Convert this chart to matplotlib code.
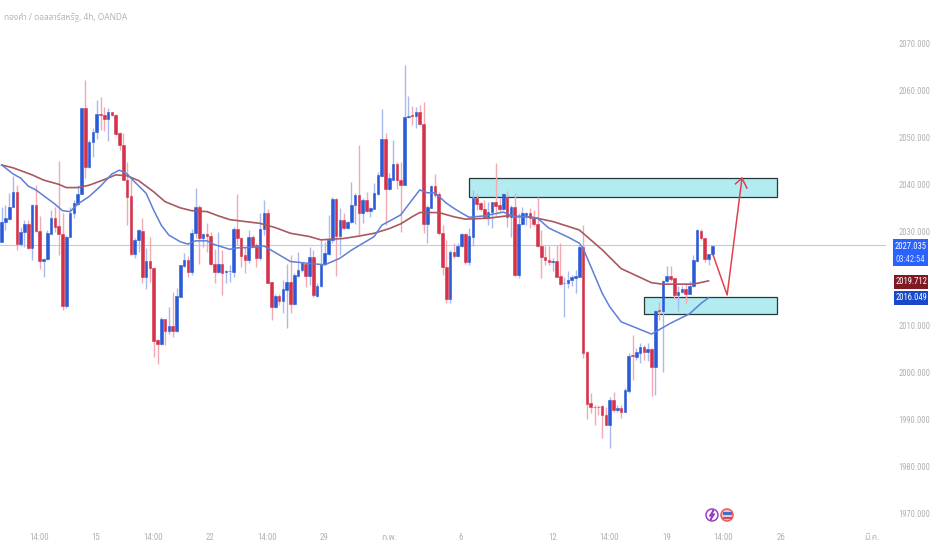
import matplotlib
matplotlib.use("Agg")
import matplotlib.pyplot as plt
from matplotlib.patches import Rectangle, Circle, Polygon
from matplotlib.transforms import IdentityTransform

opens = [
    2027.7, 2032.0, 2032.6, 2035.2, 2038.4, 2027.4, 2029.8, 2031.6, 2026.4, 2035.6,
    2030.1, 2023.8, 2024.1, 2029.4, 2032.9, 2031.1, 2029.4, 2014.2, 2028.9, 2033.8,
    2035.8, 2037.9, 2056.1, 2043.6, 2049.0, 2051.0, 2055.0, 2054.7, 2053.9, 2055.3,
    2054.7, 2050.8, 2048.3, 2041.0, 2037.5, 2025.1, 2028.2, 2030.1, 2020.4, 2023.8,
    2022.3, 2006.9, 2006.1, 2011.5, 2008.9, 2010.0, 2008.8, 2016.1, 2022.7, 2023.9,
    2021.4, 2029.6, 2035.1, 2028.7, 2029.4, 2029.0, 2023.1, 2021.3, 2023.0, 2021.4,
    2021.5, 2021.4, 2030.6, 2028.7, 2025.0, 2023.9, 2028.9, 2027.1, 2024.3, 2030.5,
    2033.8, 2019.2, 2013.9, 2016.3, 2015.3, 2017.5, 2019.3, 2014.6, 2020.6, 2021.8,
    2023.1, 2020.5, 2024.6, 2016.3, 2018.3, 2023.1, 2025.2, 2028.2, 2036.8, 2029.0,
    2032.4, 2030.8, 2032.0, 2035.5, 2037.7, 2033.8, 2036.7, 2034.4, 2034.8, 2037.9,
    2041.8, 2049.6, 2038.9, 2041.0, 2044.4, 2040.9, 2039.8, 2054.2, 2054.7, 2054.6,
    2055.4, 2052.9, 2031.6, 2035.0, 2039.6, 2037.9, 2029.6, 2022.5, 2015.7, 2025.6,
    2024.7, 2026.8, 2029.5, 2023.4, 2028.9, 2037.0, 2036.0, 2034.8, 2033.1, 2034.1,
    2036.2, 2035.5, 2034.7, 2037.2, 2033.1, 2035.1, 2020.8, 2031.6, 2033.5, 2034.0,
    2032.8, 2031.6, 2026.9, 2024.5, 2023.9, 2023.4, 2023.7, 2020.5, 2019.0, 2019.0,
    2019.6, 2020.1, 2020.4, 2026.6, 2004.3, 1993.5, 1992.8, 1992.8, 1992.9, 1991.0,
    1988.9, 1994.2, 1992.1, 1992.4, 1991.6, 1996.1, 2003.7, 2003.4, 2004.1, 2005.4,
    2004.3, 2005.0, 2001.3, 2013.3, 2013.0, 2019.5, 2020.5, 2020.0, 2016.6, 2017.1,
    2017.7, 2016.7, 2018.3, 2023.8, 2030.1, 2028.5, 2024.1, 2025.1,
]
closes = [
    2032.0, 2032.8, 2035.2, 2038.4, 2027.4, 2029.8, 2031.6, 2026.4, 2035.6, 2030.1,
    2023.8, 2024.1, 2029.6, 2032.9, 2031.0, 2029.4, 2014.2, 2028.9, 2034.0, 2036.0,
    2037.9, 2056.1, 2043.6, 2049.0, 2051.0, 2055.0, 2054.7, 2053.9, 2055.3, 2054.7,
    2050.7, 2048.3, 2041.0, 2037.4, 2025.1, 2028.2, 2030.3, 2020.4, 2023.8, 2022.3,
    2006.7, 2006.1, 2011.5, 2008.9, 2010.0, 2008.8, 2016.3, 2022.9, 2023.9, 2021.4,
    2029.7, 2035.1, 2028.7, 2029.4, 2029.0, 2023.1, 2021.4, 2023.0, 2021.2, 2021.6,
    2021.6, 2030.6, 2028.7, 2024.8, 2023.9, 2028.9, 2026.9, 2024.3, 2030.6, 2033.8,
    2019.1, 2013.9, 2016.3, 2015.3, 2017.7, 2019.3, 2014.6, 2020.7, 2021.8, 2023.2,
    2020.5, 2024.6, 2016.5, 2018.4, 2023.1, 2025.5, 2028.2, 2036.8, 2029.0, 2032.4,
    2030.8, 2032.0, 2035.6, 2037.7, 2033.8, 2036.7, 2034.4, 2034.9, 2038.1, 2042.0,
    2049.6, 2038.9, 2041.3, 2044.4, 2040.9, 2039.8, 2054.3, 2054.6, 2054.6, 2055.4,
    2052.8, 2031.6, 2035.1, 2039.6, 2037.7, 2029.6, 2022.5, 2015.7, 2025.6, 2024.7,
    2026.9, 2029.5, 2023.4, 2029.0, 2037.0, 2035.8, 2034.7, 2033.1, 2034.2, 2036.2,
    2035.4, 2034.7, 2037.9, 2033.1, 2035.1, 2020.8, 2031.6, 2034.0, 2034.0, 2032.8,
    2031.6, 2026.8, 2024.5, 2023.9, 2023.4, 2023.7, 2020.4, 2018.9, 2019.1, 2019.7,
    2020.3, 2020.5, 2026.6, 2004.1, 1993.4, 1992.8, 1992.7, 1992.7, 1991.0, 1988.9,
    1994.2, 1992.0, 1992.5, 1991.6, 1996.3, 2003.6, 2003.5, 2004.3, 2005.4, 2004.3,
    2005.0, 2001.3, 2013.2, 2013.0, 2019.5, 2020.5, 2019.8, 2016.5, 2017.2, 2017.7,
    2016.7, 2018.4, 2023.9, 2030.2, 2028.5, 2024.1, 2025.2, 2027.0,
]
highs = [
    2035.2, 2035.6, 2038.1, 2041.8, 2039.8, 2031.0, 2032.4, 2032.4, 2035.9, 2039.8,
    2033.3, 2024.3, 2030.3, 2034.5, 2035.2, 2045.0, 2033.8, 2029.2, 2035.2, 2036.7,
    2039.8, 2056.1, 2062.1, 2049.4, 2051.9, 2058.0, 2058.5, 2056.5, 2056.1, 2055.4,
    2055.0, 2051.2, 2050.8, 2044.8, 2041.6, 2028.5, 2030.6, 2032.8, 2026.4, 2028.9,
    2022.5, 2007.1, 2011.9, 2011.5, 2014.0, 2017.2, 2017.9, 2022.9, 2025.5, 2024.8,
    2030.6, 2039.3, 2035.6, 2029.7, 2031.8, 2029.9, 2026.2, 2029.9, 2026.0, 2021.8,
    2022.9, 2031.0, 2037.9, 2028.9, 2026.7, 2030.3, 2029.2, 2027.5, 2034.0, 2036.7,
    2034.7, 2019.3, 2016.8, 2016.8, 2019.7, 2023.1, 2025.0, 2021.1, 2025.7, 2023.6,
    2023.2, 2026.7, 2026.0, 2019.0, 2028.2, 2027.8, 2033.5, 2037.4, 2037.0, 2034.9,
    2034.0, 2032.3, 2040.4, 2038.1, 2048.3, 2037.0, 2038.4, 2035.2, 2040.2, 2042.7,
    2055.9, 2050.8, 2042.5, 2049.5, 2044.8, 2044.8, 2065.3, 2058.7, 2056.6, 2056.5,
    2056.8, 2057.5, 2035.6, 2039.8, 2042.2, 2038.4, 2031.4, 2028.2, 2026.1, 2027.5,
    2027.5, 2029.6, 2029.6, 2030.7, 2038.8, 2038.1, 2036.3, 2036.7, 2036.3, 2036.3,
    2044.5, 2037.0, 2038.1, 2038.5, 2035.6, 2038.2, 2033.9, 2035.1, 2034.2, 2034.9,
    2034.6, 2037.2, 2030.3, 2026.8, 2026.8, 2024.3, 2027.1, 2027.5, 2020.4, 2021.5,
    2020.8, 2021.8, 2027.1, 2031.4, 2004.5, 1995.6, 1993.2, 1993.2, 1993.2, 1992.8,
    1994.9, 1996.0, 1993.2, 1993.1, 1996.7, 2004.1, 2008.0, 2005.2, 2006.2, 2005.9,
    2006.4, 2005.2, 2013.3, 2015.1, 2019.7, 2022.7, 2022.7, 2020.2, 2018.4, 2018.4,
    2019.0, 2019.5, 2025.0, 2030.6, 2030.6, 2028.7, 2025.3, 2027.1,
]
lows = [
    2027.7, 2030.3, 2032.4, 2035.2, 2026.1, 2026.9, 2026.7, 2026.2, 2023.9, 2029.9,
    2022.1, 2020.4, 2023.9, 2029.4, 2029.9, 2025.0, 2013.3, 2013.7, 2028.9, 2032.8,
    2035.6, 2037.9, 2041.3, 2043.4, 2045.7, 2049.7, 2051.5, 2051.3, 2049.2, 2054.5,
    2050.5, 2047.3, 2040.9, 2031.3, 2025.0, 2024.3, 2025.7, 2019.0, 2017.7, 2019.3,
    2003.4, 2001.8, 2005.9, 2005.9, 2008.3, 2007.5, 2008.7, 2016.0, 2022.5, 2020.4,
    2020.7, 2028.5, 2023.1, 2026.6, 2025.7, 2022.9, 2019.1, 2021.2, 2016.5, 2019.1,
    2019.3, 2020.4, 2027.1, 2022.5, 2021.2, 2023.2, 2026.7, 2022.5, 2023.9, 2029.2,
    2019.0, 2011.2, 2013.7, 2014.4, 2012.6, 2009.4, 2012.6, 2014.4, 2020.4, 2021.4,
    2018.1, 2018.6, 2016.1, 2016.1, 2018.1, 2022.9, 2025.0, 2027.5, 2020.5, 2025.0,
    2030.6, 2030.6, 2031.8, 2031.6, 2029.2, 2031.7, 2034.2, 2033.1, 2034.7, 2037.7,
    2041.6, 2031.3, 2038.8, 2040.9, 2038.9, 2029.9, 2039.8, 2054.0, 2052.6, 2051.9,
    2052.6, 2029.6, 2027.6, 2034.9, 2037.4, 2029.2, 2020.8, 2014.9, 2014.9, 2024.3,
    2024.5, 2026.6, 2023.1, 2022.9, 2026.8, 2034.6, 2034.4, 2032.8, 2031.4, 2030.7,
    2033.5, 2034.2, 2034.6, 2031.0, 2028.8, 2020.5, 2020.1, 2031.4, 2031.4, 2030.7,
    2031.2, 2026.6, 2020.1, 2022.9, 2022.9, 2021.5, 2020.3, 2018.6, 2011.9, 2017.9,
    2018.3, 2016.9, 2020.4, 2003.1, 1990.1, 1991.4, 1988.9, 1991.0, 1986.1, 1988.9,
    1984.1, 1991.7, 1991.7, 1990.3, 1991.6, 1995.6, 1998.5, 2002.7, 2002.1, 2002.7,
    2002.4, 1995.1, 1995.3, 2011.1, 2000.2, 2019.3, 2019.5, 2015.8, 2013.1, 2016.9,
    2014.9, 2016.7, 2018.1, 2023.6, 2028.2, 2023.6, 2022.9, 2025.0,
]

ma_fast_idx = [0, 3, 5, 7, 9, 12, 14, 16, 18, 20, 23, 26, 29, 31, 33, 35, 38, 40, 42, 44,
               47, 49, 51, 54, 56, 60, 62, 66, 69, 72, 76, 81, 85, 89, 92, 98, 100, 105,
               108, 110, 112, 114, 117, 119, 121, 123, 127, 132, 135, 138, 141, 144, 149,
               152, 153, 158, 160, 163, 171, 176, 181, 184, 186]
ma_fast = [2044.1, 2042.2, 2041.3, 2039.6, 2038.8, 2037.0, 2035.8, 2034.4, 2034.2, 2035.8,
           2037.4, 2039.6, 2042.2, 2043.0, 2042.2, 2040.5, 2038.1, 2034.5, 2031.3, 2029.2,
           2027.8, 2027.3, 2028.0, 2028.0, 2027.2, 2026.2, 2026.5, 2026.6, 2026.9, 2025.5,
           2023.6, 2023.2, 2022.9, 2024.3, 2026.0, 2028.9, 2031.3, 2033.5, 2036.7, 2038.8,
           2038.2, 2038.2, 2036.0, 2034.9, 2033.9, 2033.0, 2033.3, 2034.1, 2033.1, 2033.1,
           2032.8, 2030.7, 2028.8, 2027.5, 2026.4, 2016.9, 2014.0, 2010.8, 2008.2, 2010.5,
           2012.5, 2014.7, 2015.9]
ma_slow_idx = [0, 3, 5, 8, 11, 15, 17, 20, 23, 27, 30, 33, 36, 40, 43, 47, 50, 54, 57, 60,
               64, 68, 72, 76, 81, 84, 90, 94, 98, 102, 105, 108, 110, 115, 119, 122, 128,
               133, 139, 145, 152, 158, 163, 171, 174, 182, 186]
ma_slow = [2044.1, 2043.5, 2042.9, 2042.0, 2040.9, 2040.0, 2039.3, 2039.3, 2039.8, 2041.0,
           2042.0, 2041.8, 2040.8, 2038.4, 2036.3, 2035.0, 2034.4, 2034.2, 2033.3, 2032.5,
           2032.1, 2031.7, 2030.8, 2029.6, 2028.9, 2028.2, 2028.5, 2029.0, 2029.6, 2030.6,
           2031.6, 2033.1, 2034.0, 2034.0, 2033.1, 2032.6, 2032.8, 2033.3, 2033.1, 2032.1,
           2030.3, 2026.1, 2022.1, 2019.1, 2018.8, 2018.8, 2019.5]

last_price = 2027.035
fast_value = 2016.049
slow_value = 2019.712
countdown = "03:42:54"

# drawn zones and the arrow (candle index, price)
zone_top = (123.0, 204.0, 2037.3, 2041.3)
zone_low = (169.0, 204.0, 2012.5, 2016.1)
arrow_x = [187.2, 190.9, 194.8]
arrow_y = [2025.0, 2016.5, 2041.3]
head_x = [193.1, 194.8, 196.1]
head_y = [2040.1, 2041.3, 2039.2]

title = "ทองคำ / ดอลลาร์สหรัฐ, 4h, OANDA"
# 2020 sits behind the price boxes in the original, so it has no label
y_ticks = [1970, 1980, 1990, 2000, 2010, 2030, 2040, 2050, 2060, 2070]
x_tick_px = [39, 96, 153, 210, 267, 324, 389, 461, 553, 609, 667, 723, 781, 872]
x_tick_labels = ["14:00", "15", "14:00", "22", "14:00", "29", "ก.พ.", "6", "12", "14:00",
                 "19", "14:00", "26", "มี.ค."]

BLUE = "#2a5bd7"
RED = "#d5324a"
BLUE_WICK = "#a9bbee"
RED_WICK = "#f3a9b2"
GREY = "#b2b2b2"
CONDENSED = ["Roboto Condensed", "Liberation Sans Narrow", "Liberation Sans", "DejaVu Sans"]
THAI = ["Noto Sans Thai", "IBM Plex Sans Thai", "DejaVu Sans"]
plt.rcParams["font.family"] = CONDENSED

W, H = 932, 550
fig = plt.figure(figsize=(W / 100, H / 100), dpi=100)
ax = fig.add_axes([0, 1 - 525 / H, 886 / W, 525 / H])
ax.set_xlim(-0.447, 232.7)
ax.set_ylim(1967.66, 2079.13)
for s in ax.spines.values():
    s.set_visible(False)

ax.axhline(last_price, color="#bcc9f3", lw=0.8, zorder=1)

for x0, x1, y0, y1 in (zone_top, zone_low):
    ax.add_patch(Rectangle((x0, y0), x1 - x0, y1 - y0, facecolor="#b2ebf0",
                           edgecolor="#26393a", lw=0.9, zorder=1.5))

xs = list(range(len(opens)))
wick_col = [BLUE_WICK if c > o else RED_WICK for o, c in zip(opens, closes)]
body_col = [BLUE if c > o else RED for o, c in zip(opens, closes)]
ax.vlines(xs, lows, highs, colors=wick_col, lw=1.0, zorder=2)
ax.bar(xs, [abs(c - o) for o, c in zip(opens, closes)],
       bottom=[min(o, c) for o, c in zip(opens, closes)],
       width=0.72, color=body_col, edgecolor=body_col, lw=0.4, zorder=3)

ax.plot(ma_slow_idx, ma_slow, color="#a8595f", lw=1.2, zorder=4)
ax.plot(ma_fast_idx, ma_fast, color="#5f7fd6", lw=1.1, zorder=4)

ax.plot(arrow_x, arrow_y, color="#e2404f", lw=1.1, zorder=5)
ax.plot(head_x, head_y, color="#e2404f", lw=1.1, zorder=5)

ax.yaxis.tick_right()
ax.set_yticks(y_ticks)
ax.set_yticklabels(["%.3f" % v for v in y_ticks])
ax.tick_params(axis="y", length=0, pad=9.0, labelsize=6.2, labelcolor=GREY)
ax.set_xticks([(p - 1.7) / 3.8 for p in x_tick_px])
ax.set_xticklabels(x_tick_labels)
ax.tick_params(axis="x", length=0, pad=5.5, labelsize=6.4, labelcolor=GREY)
for t, s in zip(ax.get_xticklabels(), x_tick_labels):
    if s[0] > "\u0e00":
        t.set_family(THAI)

fig.text(4 / W, 1 - 17 / H, title, family=THAI, fontsize=6.0, color="#b5b5b5", va="center")


def box(x0, y0, x1, y1, color):
    fig.add_artist(Rectangle((x0 / W, 1 - y1 / H), (x1 - x0) / W, (y1 - y0) / H,
                             facecolor=color, edgecolor="none",
                             transform=fig.transFigure))


def label(x, y, s, color="white"):
    fig.text(x / W, 1 - y / H, s, color=color, fontsize=6.2, ha="center", va="center")


box(893, 239, 928, 266, "#2962ff")
label(910.5, 246.5, "%.3f" % last_price)
label(910.5, 259, countdown, "#d5e0ff")
box(894, 275, 928, 289, "#801922")
label(911, 282, "%.3f" % slow_value)
box(894, 291, 928, 305, "#1848cc")
label(911, 298, "%.3f" % fast_value)

# small event icons under the chart
pix = IdentityTransform()
fig.add_artist(Circle((712, H - 515), 6, facecolor="white", edgecolor="#9c3fc4", lw=1.1, transform=pix))
fig.add_artist(Polygon([(713.5, H - 510), (709.5, H - 516), (712, H - 516), (710.5, H - 520),
                        (714.5, H - 514), (712, H - 514)], closed=True, color="#9c3fc4", transform=pix))
fig.add_artist(Circle((727, H - 515), 6, facecolor="#f4c4c4", edgecolor="#ee5560", lw=1.1, transform=pix))
fig.add_artist(Rectangle((722.5, H - 515), 9, 3, facecolor="#3f6fc8", edgecolor="none", transform=pix))
fig.add_artist(Rectangle((722.5, H - 519), 9, 2, facecolor="#d84a55", edgecolor="none", transform=pix))

fig.savefig("out.png", dpi=100)
